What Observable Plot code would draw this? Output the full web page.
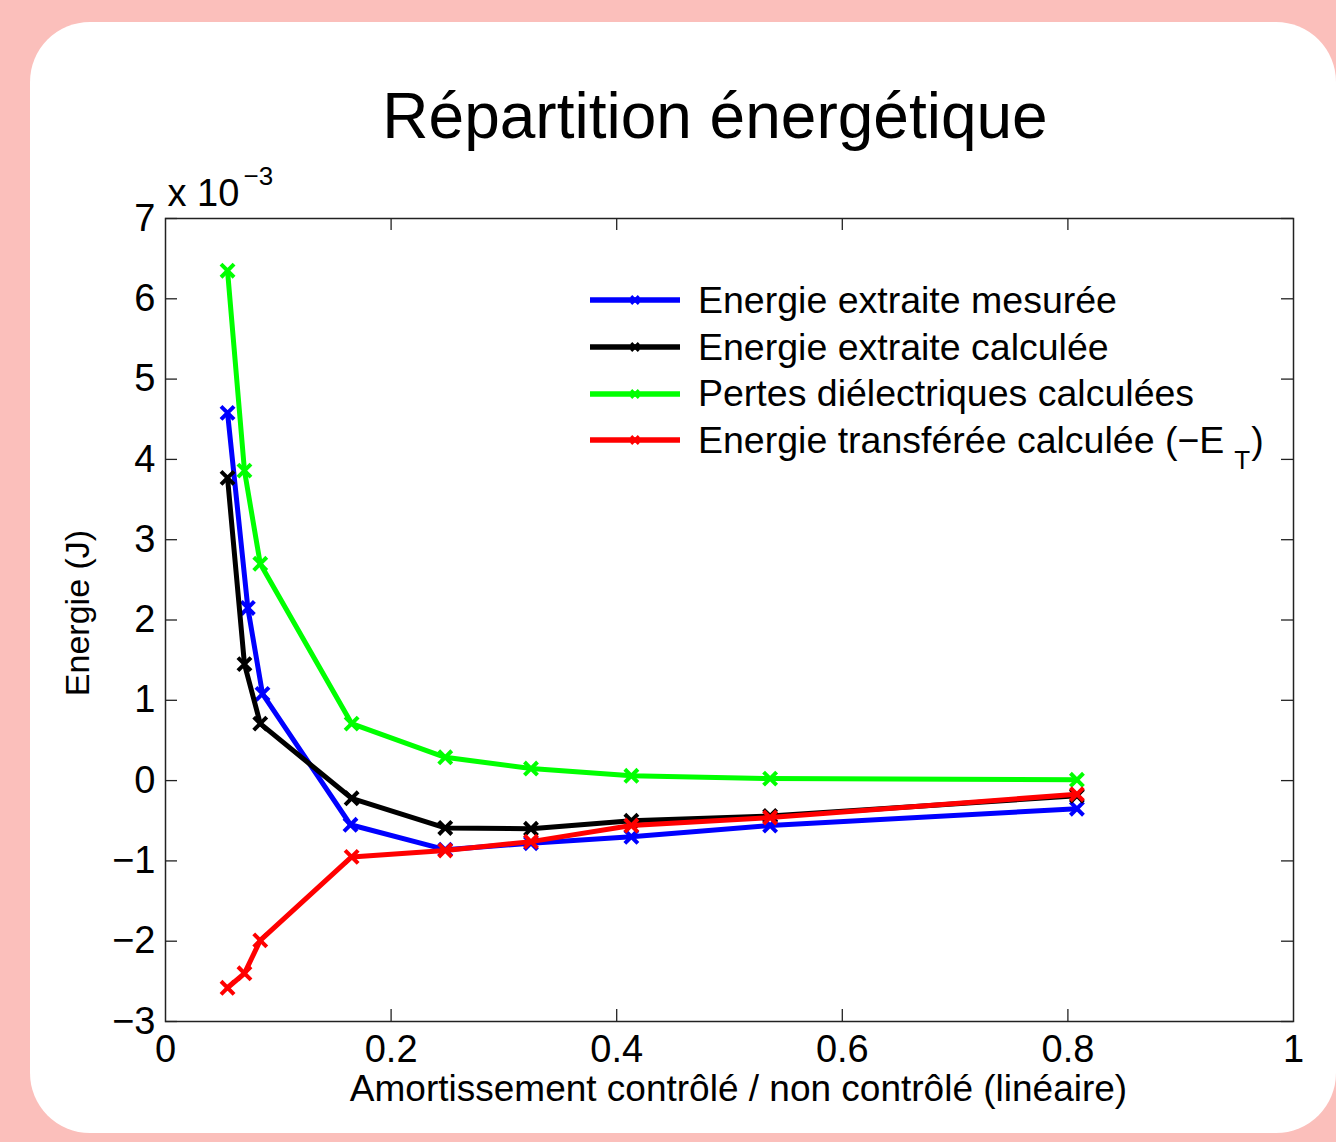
<!DOCTYPE html>
<html>
<head>
<meta charset="utf-8">
<script src="https://cdn.jsdelivr.net/npm/d3@7"></script>
<script src="https://cdn.jsdelivr.net/npm/@observablehq/plot@0.6"></script>
<style>
html,body{margin:0;padding:0;}
body{width:1336px;height:1142px;background:#fbbfbb;position:relative;overflow:hidden;font-family:"Liberation Sans",Arial,sans-serif;}
#card{position:absolute;left:30px;top:22px;width:1306px;height:1111px;background:#fff;border-radius:60px;}
#title{position:absolute;left:215px;width:1000px;top:84px;text-align:center;font-size:64px;line-height:64px;color:#000;}
#chart{position:absolute;left:0;top:150px;}
#legend{position:absolute;left:590px;top:277px;}
.row{display:flex;align-items:center;height:46.7px;font-size:37.5px;color:#000;white-space:nowrap;}
.row svg{margin-right:18px;}
</style>
</head>
<body>
<div id="card"></div>
<div id="title">Répartition énergétique</div>
<div id="chart"></div>
<div id="legend"></div>
<script>
// Data (energies in units of 10^-3 J)
const xCommon = [0.055, 0.070, 0.084, 0.165, 0.248, 0.324, 0.413, 0.536, 0.808];
const xMesuree = [0.055, 0.073, 0.086, 0.164, 0.248, 0.324, 0.413, 0.536, 0.808];
const mesuree = [4.58, 2.15, 1.08, -0.55, -0.86, -0.78, -0.70, -0.56, -0.35];
const calculee = [3.77, 1.45, 0.71, -0.22, -0.59, -0.60, -0.50, -0.44, -0.19];
const pertes = [6.35, 3.86, 2.70, 0.71, 0.29, 0.15, 0.06, 0.025, 0.01];
const transferee = [-2.58, -2.40, -1.99, -0.95, -0.87, -0.76, -0.56, -0.46, -0.17];

const seriesNames = [
  "Energie extraite mesurée",
  "Energie extraite calculée",
  "Pertes diélectriques calculées",
  "Energie transférée calculée (−E"
];
const seriesColors = ["#0000ff", "#000000", "#00ff00", "#ff0000"];
const xTicks = [0, 0.2, 0.4, 0.6, 0.8, 1];
const yTicks = [-3, -2, -1, 0, 1, 2, 3, 4, 5, 6, 7];
const xLabel = "Amortissement contrôlé / non contrôlé (linéaire)";
const yLabel = "Energie (J)";
const exponentBase = "x 10";
const exponentPower = "−3";

const seriesX = [xMesuree, xCommon, xCommon, xCommon];
const seriesY = [mesuree, calculee, pertes, transferee];
const rows = [];
seriesY.forEach((ys, s) => ys.forEach((v, i) => rows.push({series: seriesNames[s], color: seriesColors[s], x: seriesX[s][i], y: v})));

const W = 1336, H = 992, mL = 165, mR = 43, mT = 68, mB = 121;
const fw = W - mL - mR, fh = H - mT - mB;
const tick = 12;
const font = "Liberation Sans, Arial, sans-serif";

const lineMarks = [];
seriesNames.forEach((name, s) => {
  const d = rows.filter(r => r.series === name);
  lineMarks.push(Plot.line(d, {x: "x", y: "y", stroke: seriesColors[s], strokeWidth: 5, strokeLinejoin: "round"}));
  lineMarks.push(Plot.dot(d, {x: "x", y: "y", symbol: "times", r: 6, stroke: seriesColors[s], strokeWidth: 4}));
});

const plot = Plot.plot({
  width: W, height: H,
  marginLeft: mL, marginRight: mR, marginTop: mT, marginBottom: mB,
  style: {background: "transparent", fontFamily: font, overflow: "visible", color: "#000"},
  x: {domain: [0, 1]},
  y: {domain: [-3, 7]},
  marks: [
    Plot.tickX(xTicks.slice(1, -1), {x: d => d, insetTop: fh - tick, stroke: "#222", strokeWidth: 1.3}),
    Plot.tickX(xTicks.slice(1, -1), {x: d => d, insetBottom: fh - tick, stroke: "#222", strokeWidth: 1.3}),
    Plot.tickY(yTicks, {y: d => d, insetRight: fw - tick, stroke: "#222", strokeWidth: 1.3}),
    Plot.tickY(yTicks, {y: d => d, insetLeft: fw - tick, stroke: "#222", strokeWidth: 1.3}),
    Plot.axisX(xTicks, {tickSize: 0, tickPadding: 14, fontSize: 38, label: null, tickFormat: d => String(d)}),
    Plot.axisY(yTicks, {tickSize: 0, tickPadding: 10, fontSize: 38, label: null, tickFormat: d3.format("d")}),
    ...lineMarks,
    Plot.frame({stroke: "#222", strokeWidth: 1.5}),
    Plot.text([xLabel], {frameAnchor: "bottom", text: d => d, dx: 9, dy: 79, fontSize: 37, fill: "#000"}),
    Plot.text([yLabel], {frameAnchor: "left", text: d => d, rotate: -90, textAnchor: "middle", dx: -87, dy: -7, fontSize: 34, fill: "#000"}),
    Plot.text([exponentBase], {frameAnchor: "top-left", text: d => d, textAnchor: "start", lineAnchor: "bottom", dx: 2, dy: -13, fontSize: 38, fill: "#000"}),
    Plot.text([exponentPower], {frameAnchor: "top-left", text: d => d, textAnchor: "start", lineAnchor: "bottom", dx: 78, dy: -34, fontSize: 26, fill: "#000"})
  ]
});
document.getElementById("chart").appendChild(plot);

// Legend
const legend = d3.select("#legend");
seriesNames.forEach((name, s) => {
  const row = legend.append("div").attr("class", "row");
  const svg = row.append("svg").attr("width", 90).attr("height", 20);
  svg.append("line").attr("x1", 0).attr("x2", 90).attr("y1", 10).attr("y2", 10)
    .attr("stroke", seriesColors[s]).attr("stroke-width", 5.5);
  svg.append("path").attr("transform", "translate(45,10)")
    .attr("d", d3.symbol(d3.symbolTimes, 40)())
    .attr("stroke", seriesColors[s]).attr("stroke-width", 3).attr("fill", "none");
  row.append("span").text(name);
  if (s === 3) {
    row.append("span").text("T").style("font-size", "26px").style("position", "relative").style("top", "20px").style("margin-left", "10px");
    row.append("span").text(")").style("margin-left", "1px");
  }
});
</script>
</body>
</html>
